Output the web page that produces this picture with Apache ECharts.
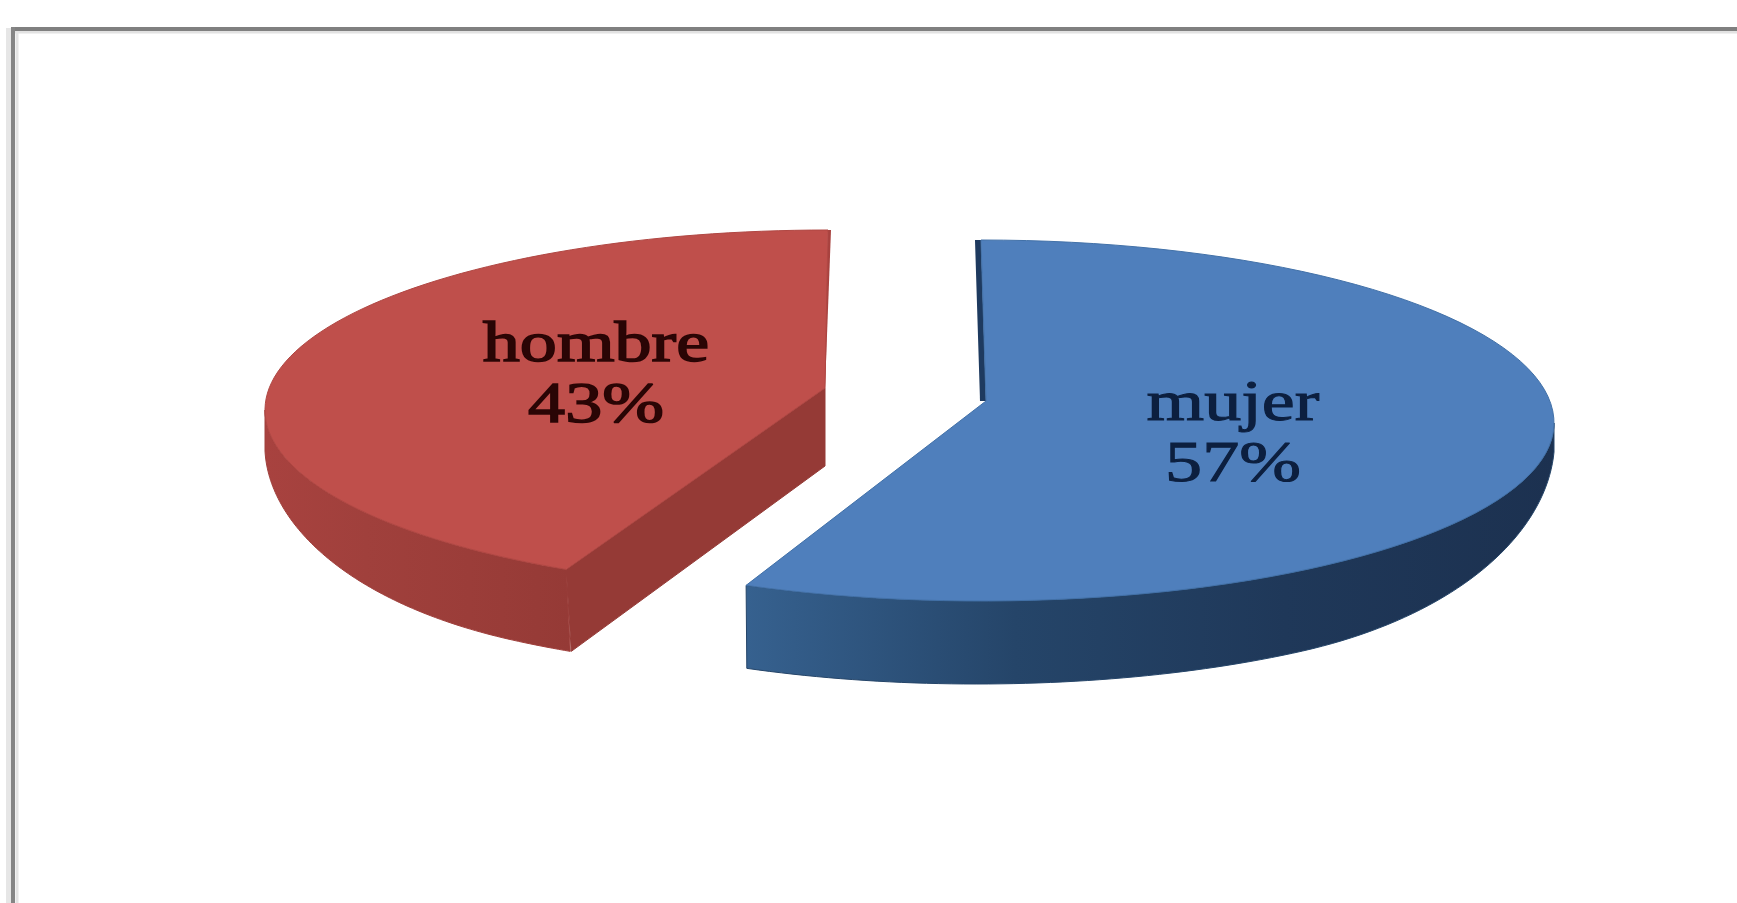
<!DOCTYPE html>
<html>
<head>
<meta charset="utf-8">
<style>html,body{margin:0;padding:0;background:#fff}#c{width:1737px;height:903px;filter:blur(0.7px)}</style>
<script src="https://cdn.jsdelivr.net/npm/echarts@6/dist/echarts.min.js"></script>
</head>
<body>
<div id="c"></div>
<script>
const categories = ['mujer', 'hombre'];
const shares = [57, 43];

const looks = [
  { cx: 981, cy: 423, rx: 573, ryUp: 183, ryLow: 178, depth: 83, lowK: 0.98, lowDx: -4, apexDx: 5, apexDy: -22,
    a0Tweak: 0, a1Tweak: -1, sideDepth: 0.35,
    top: '#4f7fbc', rim: '#4271a8', wall: ['#36618f', '#254569', '#1f3859', '#1c3150'], cut: '#1e3a5f', cutDx: -6,
    ink: '#0c1f3f', tx: 1233, ty: 436, inkWidth: 1 },
  { cx: 828, cy: 410, rx: 563, ryUp: 180, ryLow: 180, depth: 82, lowK: 0.985, lowDx: 0, apexDx: -3, apexDy: -22,
    a0Tweak: 2.5, a1Tweak: 0, sideDepth: 0.5,
    top: '#bf4f4b', rim: '#b04743', wall: ['#a8423f', '#a0403c', '#9b3d39', '#953a36'], cut: '#953a36', cutDx: 0,
    ink: '#2a0505', tx: 596, ty: 377, inkWidth: 1.5 }
];

const total = shares.reduce((a, b) => a + b, 0);
const rad = d => d * Math.PI / 180;
const startOf = i => shares.slice(0, i).reduce((a, b) => a + b, 0) / total * Math.PI * 2;
function pt(g, a, k, dy, dx) {
  const c = Math.cos(a);
  return [g.cx + dx + Math.sin(a) * g.rx * k, g.cy - c * (c > 0 ? g.ryUp : g.ryLow) + dy];
}
function arc(g, a0, a1) {
  const n = 90, out = [];
  for (let j = 0; j <= n; j++) out.push(pt(g, a0 + (a1 - a0) * j / n, 1, 0, 0));
  return out;
}
// lower edge of the wall: full depth at the front, tapering toward the widest points of the rim
function lowerEdge(g, a0, a1) {
  const n = 90, out = [];
  for (let j = 0; j <= n; j++) {
    const a = a0 + (a1 - a0) * j / n;
    const fromSide = Math.min(a - Math.PI / 2, Math.PI * 1.5 - a);
    const e = Math.sin(Math.min(1, fromSide / rad(55)) * Math.PI / 2);
    const d = g.depth * (g.sideDepth + (1 - g.sideDepth) * e);
    out.push(pt(g, a, 1 + (g.lowK - 1) * e, d, g.lowDx * e));
  }
  return out;
}

function renderItem(params, api) {
  const i = params.dataIndex, g = looks[i];
  const base = startOf(i);
  const a0 = base + rad(g.a0Tweak), a1 = base + api.value(0) / total * Math.PI * 2 + rad(g.a1Tweak);
  const apex = [g.cx + g.apexDx, g.cy + g.apexDy];
  const kids = [];
  // outer wall: the part of the rim that faces the viewer
  const w0 = Math.max(a0, Math.PI / 2), w1 = Math.min(a1, Math.PI * 1.5);
  if (w1 > w0) {
    const upper = arc(g, w0, w1), lower = lowerEdge(g, w0, w1).reverse();
    kids.push({ type: 'polygon', shape: { points: upper.concat(lower) }, style: {
      lineWidth: 1, stroke: g.wall[1],
      fill: { type: 'linear', x: 0, y: 0, x2: 1, y2: 0,
        colorStops: g.wall.map((c, s) => ({ offset: s / (g.wall.length - 1), color: c })) } } });
  }
  // cut faces
  if (i === 1) {
    const p = pt(g, a0, 1, 0, 0);
    kids.push({ type: 'polygon', shape: { points: [apex, p, [p[0] + 5, p[1] + g.depth], [apex[0], apex[1] + g.depth - 4]] },
      style: { fill: g.cut, stroke: g.cut, lineWidth: 1 } });
    const q = pt(g, a1, 1, 0, 0);
    kids.push({ type: 'polygon', shape: { points: [q, [q[0] + 3, q[1]], apex, [apex[0] - 3, apex[1]]] }, style: { fill: '#a8423f' } });
  } else {
    const p = pt(g, a0, 1, 0, 0);
    kids.push({ type: 'polygon', shape: { points: [[p[0] + g.cutDx, p[1]], p, apex, [apex[0] + g.cutDx, apex[1]]] },
      style: { fill: g.cut } });
  }
  // top face
  kids.push({ type: 'polygon', shape: { points: [apex].concat(arc(g, a0, a1)) }, style: { fill: g.top, stroke: g.rim, lineWidth: 1 } });
  // label
  kids.push({ type: 'text', x: g.tx, y: g.ty, scaleX: 1.3, scaleY: 1, style: {
    text: categories[i] + '\n' + api.value(0) + '%',
    fontFamily: '"Liberation Serif", serif', fontSize: 57, lineHeight: 61,
    fill: g.ink, stroke: g.ink, lineWidth: g.inkWidth, align: 'center', verticalAlign: 'middle' } });
  return { type: 'group', children: kids };
}

const chart = echarts.init(document.getElementById('c'), null, { renderer: 'canvas' });
chart.setOption({
  animation: false,
  backgroundColor: '#ffffff',
  graphic: [
    { type: 'line', shape: { x1: 10, y1: 32, x2: 1737, y2: 32 }, style: { stroke: '#e2e2e2', lineWidth: 3 } },
    { type: 'line', shape: { x1: 8.5, y1: 28, x2: 8.5, y2: 903 }, style: { stroke: '#e6e6e6', lineWidth: 5 } },
    { type: 'line', shape: { x1: 17, y1: 32, x2: 17, y2: 903 }, style: { stroke: '#e4e4e4', lineWidth: 3 } },
    { type: 'line', shape: { x1: 11, y1: 29, x2: 1737, y2: 29 }, style: { stroke: '#808080', lineWidth: 4 } },
    { type: 'line', shape: { x1: 13, y1: 27, x2: 13, y2: 903 }, style: { stroke: '#858585', lineWidth: 4 } }
  ],
  series: [{
    type: 'custom',
    coordinateSystem: 'none',
    silent: true,
    renderItem,
    data: shares.map(v => [v])
  }]
});
</script>
</body>
</html>
